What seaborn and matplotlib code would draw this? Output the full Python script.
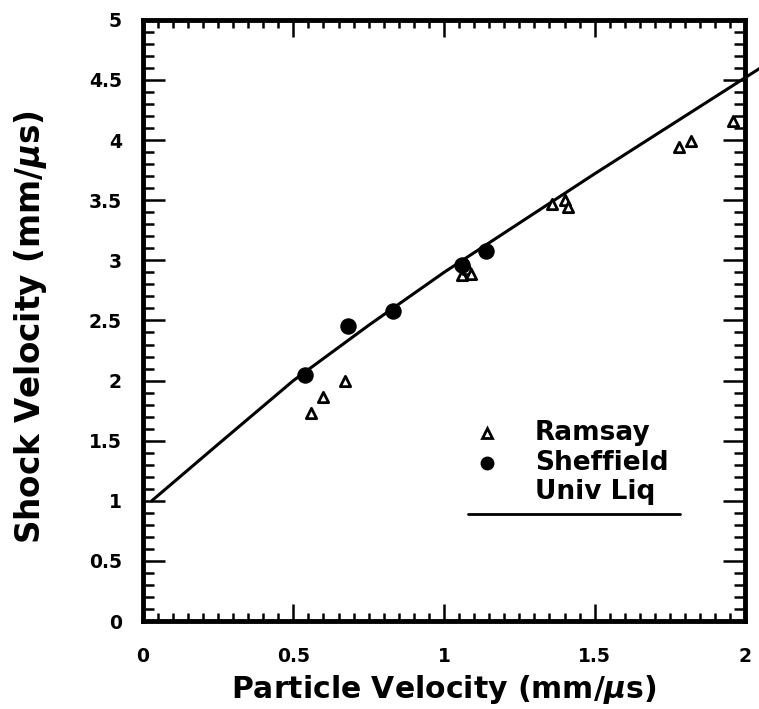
"""Shock velocity vs particle velocity: Ramsay / Sheffield data and universal liquid Hugoniot."""

import matplotlib.pyplot as plt
import matplotlib.ticker as mticker
import pandas as pd
import seaborn as sns

# Ramsay data (open triangles)
ramsay_up = [0.56, 0.60, 0.67, 1.06, 1.08, 1.09, 1.36, 1.40, 1.41, 1.78, 1.82, 1.96]
ramsay_us = [1.73, 1.86, 2.00, 2.88, 2.93, 2.89, 3.47, 3.50, 3.44, 3.94, 3.99, 4.16]

# Sheffield data (filled circles)
sheffield_up = [0.54, 0.68, 0.83, 1.06, 1.14]
sheffield_us = [2.05, 2.45, 2.58, 2.96, 3.08]

# Universal liquid Hugoniot curve
univ_up = [0.03, 0.25, 0.5, 0.75, 1.0, 1.25, 1.5, 1.75, 2.0, 2.05]
univ_us = [1.00, 1.47, 2.00, 2.46, 2.90, 3.31, 3.72, 4.12, 4.52, 4.60]

x_ticks = [0, 0.5, 1, 1.5, 2]
y_ticks = [0, 0.5, 1, 1.5, 2, 2.5, 3, 3.5, 4, 4.5, 5]

sns.set_style("ticks")
plt.rcParams["font.family"] = ["DejaVu Sans"]
plt.rcParams["font.weight"] = "bold"
plt.rcParams["mathtext.fontset"] = "dejavusans"
plt.rcParams["text.color"] = "black"
plt.rcParams["axes.labelcolor"] = "black"

ramsay = pd.DataFrame({"up": ramsay_up, "us": ramsay_us})
sheffield = pd.DataFrame({"up": sheffield_up, "us": sheffield_us})
univ = pd.DataFrame({"up": univ_up, "us": univ_us})

fig = plt.figure(figsize=(7.59, 7.09), dpi=100)
ax = fig.add_axes([0.188, 0.124, 0.794, 0.848])

sns.lineplot(data=univ, x="up", y="us", ax=ax, color="black", linewidth=2.2,
             sort=False, clip_on=False, zorder=2)
sns.scatterplot(data=ramsay, x="up", y="us", ax=ax, marker="^", s=55,
                facecolor="white", edgecolor="black", linewidth=2.0, zorder=3)
sns.scatterplot(data=sheffield, x="up", y="us", ax=ax, marker="o", s=120,
                color="black", edgecolor="black", zorder=4)

ax.set_xlim(0, 2)
ax.set_ylim(0, 5)
ax.set_xticks(x_ticks)
ax.set_yticks(y_ticks)
ax.xaxis.set_minor_locator(mticker.MultipleLocator(0.05))
ax.yaxis.set_minor_locator(mticker.MultipleLocator(0.1))
fmt = mticker.FuncFormatter(lambda v, _: f"{v:g}")
ax.xaxis.set_major_formatter(fmt)
ax.yaxis.set_major_formatter(fmt)

ax.tick_params(which="both", direction="in", top=True, right=True, width=1.8,
               color="black", labelcolor="black")
ax.tick_params(axis="x", which="major", length=12, pad=19, labelsize=13.5)
ax.tick_params(axis="x", which="minor", length=6)
ax.tick_params(axis="y", which="major", length=16, pad=15, labelsize=13.5)
ax.tick_params(axis="y", which="minor", length=8)
for lab in ax.get_xticklabels() + ax.get_yticklabels():
    lab.set_fontweight("bold")

for sp in ax.spines.values():
    sp.set_linewidth(3.5)
    sp.set_color("black")

ax.set_xlabel(r"Particle Velocity (mm/$\mu$s)", fontsize=21.5, fontweight="bold", labelpad=5)
ax.set_ylabel(r"Shock Velocity (mm/$\mu$s)", fontsize=23.5, fontweight="bold")
ax.yaxis.set_label_coords(-0.155, 0.488)

# hand-drawn style legend
tr = ax.transAxes
ax.plot([0.571], [0.313], transform=tr, marker="^", markersize=7, markerfacecolor="white",
        markeredgecolor="black", markeredgewidth=2, linestyle="none")
ax.plot([0.571], [0.263], transform=tr, marker="o", markersize=9, color="black", linestyle="none")
for ypos, label in [(0.313, "Ramsay"), (0.263, "Sheffield"), (0.215, "Univ Liq")]:
    ax.text(0.651, ypos, label, transform=tr, fontsize=19, fontweight="bold",
            va="center", ha="left", color="black")
ax.plot([0.54, 0.892], [0.178, 0.178], transform=tr, color="black", linewidth=2)

fig.savefig("out.png", dpi=100)
plt.close(fig)
